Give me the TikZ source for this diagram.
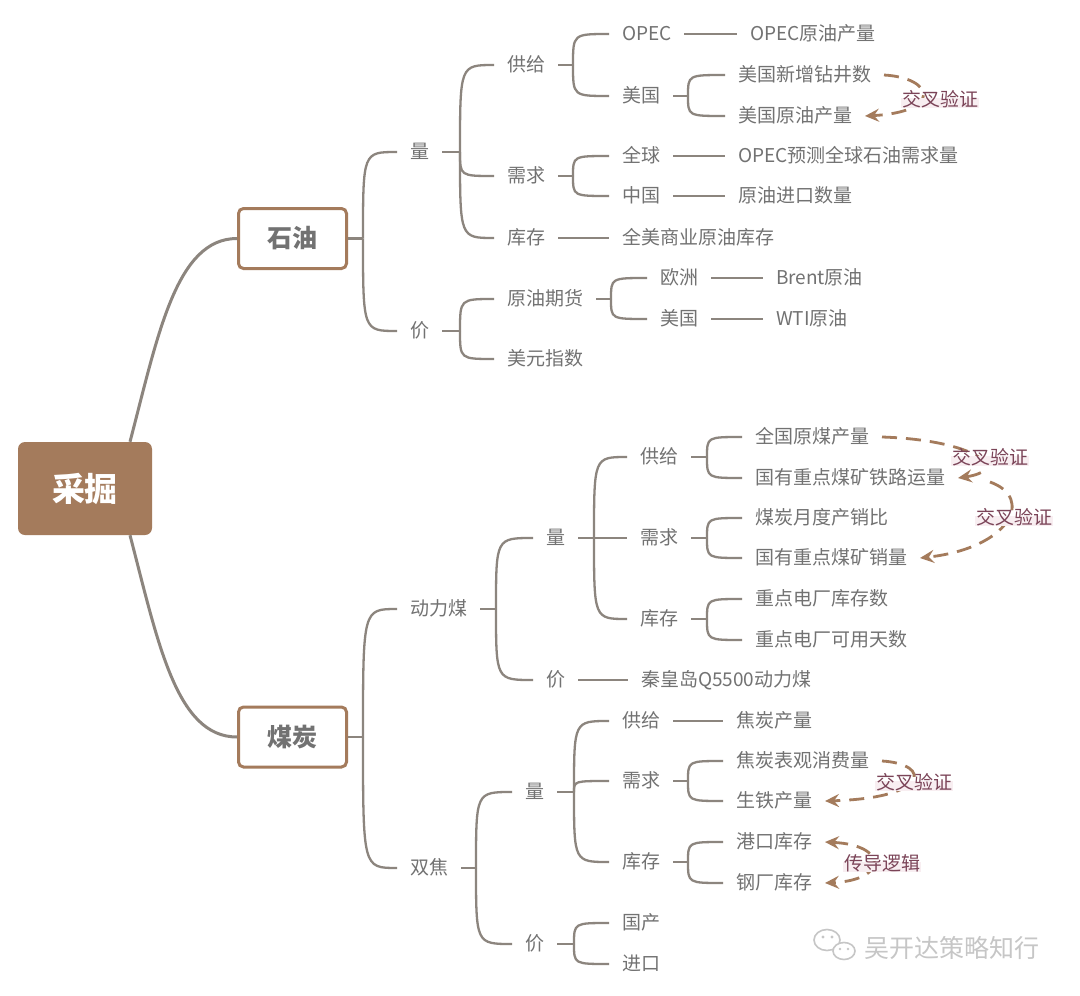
\documentclass[tikz,border=0pt]{standalone}
\usepackage{fontspec}
\setmainfont{Noto Sans CJK SC}
\usetikzlibrary{arrows.meta,calc}
\definecolor{linec}{HTML}{8C857E}
\definecolor{txtc}{HTML}{727272}
\definecolor{mybrown}{HTML}{A47B5C}
\definecolor{lblc}{HTML}{7B4458}
\definecolor{lblbg}{HTML}{F8EEF1}
\definecolor{wmc}{HTML}{C6C6C6}
\newcommand{\mmbr}[2]{\draw[br] (#1) .. controls (#1 |- #2.west) .. (#2.west);}
\tikzset{
  tx/.style={anchor=west, inner xsep=0pt, inner ysep=0pt, outer xsep=13pt, outer ysep=0pt,
    text=txtc, font=\fontsize{19}{22}\selectfont, text height=1.2em, text depth=0pt},
  br/.style={draw=linec, line width=2.3pt},
  trunk/.style={draw=linec, line width=3pt},
  xref/.style={draw=mybrown, line width=2.8pt, dash pattern=on 15pt off 9pt,
    -{Stealth[length=14pt,width=13pt,inset=5pt]}},
  lbl/.style={text=lblc, fill=lblbg, inner sep=1pt, font=\fontsize{19}{22}\selectfont,
    text height=0.76em, text depth=0.06em},
  rootbox/.style={rectangle, rounded corners=7pt, fill=mybrown, minimum width=134pt,
    minimum height=93pt, text=white, font=\fontsize{33}{36}\selectfont\bfseries},
  catbox/.style={rectangle, draw=mybrown, line width=3pt, rounded corners=5pt, fill=white,
    minimum width=108pt, minimum height=60pt, text=txtc, font=\fontsize{25}{28}\selectfont\bfseries},
}
\begin{document}
\begin{tikzpicture}[x=1pt,y=-1pt]
\fill[white] (0,0) rectangle (1080,996);
\useasboundingbox (0,0) rectangle (1080,996);

% root and categories
\node[rootbox] (root) at (85,488.5) {采掘};
\node[catbox] (oil) at (292.5,238.5) {石油};
\node[catbox] (coal) at (292.5,737) {煤炭};
\draw[trunk] ($(root.north)+(45,0)$) .. controls (158,335) and (176,238.5) .. (oil.west);
\draw[trunk] ($(root.south)+(45,0)$) .. controls (158,642) and (176,737) .. (coal.west);

% ================= OIL =================
\coordinate (Joil) at (363,238.5);
\draw[br] (oil.east) -- (Joil);
\node[tx] (oq) at (397,152) {量};
\node[tx] (op) at (397,331) {价};
\mmbr{Joil}{oq} \mmbr{Joil}{op}

% oil quantity
\coordinate (Joq) at (460,152);
\draw[br] (oq.east) -- (Joq);
\node[tx] (osup) at (494,65) {供给};
\node[tx] (odem) at (494,176) {需求};
\node[tx] (osto) at (494,238) {库存};
\mmbr{Joq}{osup} \mmbr{Joq}{odem} \mmbr{Joq}{osto}

\coordinate (Josup) at (573,65);
\draw[br] (osup.east) -- (Josup);
\node[tx] (opec) at (609,34) {OPEC};
\node[tx] (ous) at (609,96) {美国};
\mmbr{Josup}{opec} \mmbr{Josup}{ous}
\node[tx] (opecp) at (737,34) {OPEC原油产量};
\draw[br] (opec.east) -- (opecp.west);
\coordinate (Jous) at (688,96);
\draw[br] (ous.east) -- (Jous);
\node[tx] (usw) at (725,75) {美国新增钻井数};
\node[tx] (usp) at (725,116) {美国原油产量};
\mmbr{Jous}{usw} \mmbr{Jous}{usp}

\coordinate (Jodem) at (573,176);
\draw[br] (odem.east) -- (Jodem);
\node[tx] (oglb) at (609,156) {全球};
\node[tx] (ocn) at (609,196) {中国};
\mmbr{Jodem}{oglb} \mmbr{Jodem}{ocn}
\node[tx] (oglbd) at (725,156) {OPEC预测全球石油需求量};
\node[tx] (ocni) at (725,196) {原油进口数量};
\draw[br] (oglb.east) -- (oglbd.west);
\draw[br] (ocn.east) -- (ocni.west);

\node[tx] (ostod) at (609,238) {全美商业原油库存};
\draw[br] (osto.east) -- (ostod.west);

% oil price
\coordinate (Jop) at (460,331);
\draw[br] (op.east) -- (Jop);
\node[tx] (ofut) at (494,299) {原油期货};
\node[tx] (odx) at (494,359) {美元指数};
\mmbr{Jop}{ofut} \mmbr{Jop}{odx}
\coordinate (Jofut) at (611,299);
\draw[br] (ofut.east) -- (Jofut);
\node[tx] (oeu) at (647,278) {欧洲};
\node[tx] (ous2) at (647,319) {美国};
\mmbr{Jofut}{oeu} \mmbr{Jofut}{ous2}
\node[tx] (brent) at (763,278) {Brent原油};
\node[tx] (wti) at (763,319) {WTI原油};
\draw[br] (oeu.east) -- (brent.west);
\draw[br] (ous2.east) -- (wti.west);

% ================= COAL =================
\coordinate (Jcoal) at (363,737);
\draw[br] (coal.east) -- (Jcoal);
\node[tx] (thermal) at (397,609) {动力煤};
\node[tx] (coke) at (397,868) {双焦};
\mmbr{Jcoal}{thermal} \mmbr{Jcoal}{coke}

% thermal coal
\coordinate (Jth) at (496,609);
\draw[br] (thermal.east) -- (Jth);
\node[tx] (tq) at (533,538) {量};
\node[tx] (tp) at (533,680) {价};
\mmbr{Jth}{tq} \mmbr{Jth}{tp}

\coordinate (Jtq) at (594,538);
\draw[br] (tq.east) -- (Jtq);
\node[tx] (tsup) at (627,457) {供给};
\node[tx] (tdem) at (627,538) {需求};
\node[tx] (tsto) at (627,619) {库存};
\mmbr{Jtq}{tsup} \mmbr{Jtq}{tdem} \mmbr{Jtq}{tsto}

\coordinate (Jtsup) at (707,457);
\draw[br] (tsup.east) -- (Jtsup);
\node[tx] (c1) at (742,437) {全国原煤产量};
\node[tx] (c2) at (742,478) {国有重点煤矿铁路运量};
\mmbr{Jtsup}{c1} \mmbr{Jtsup}{c2}

\coordinate (Jtdem) at (707,538);
\draw[br] (tdem.east) -- (Jtdem);
\node[tx] (c3) at (742,518) {煤炭月度产销比};
\node[tx] (c4) at (742,558) {国有重点煤矿销量};
\mmbr{Jtdem}{c3} \mmbr{Jtdem}{c4}

\coordinate (Jtsto) at (707,619);
\draw[br] (tsto.east) -- (Jtsto);
\node[tx] (c5) at (742,599) {重点电厂库存数};
\node[tx] (c6) at (742,640) {重点电厂可用天数};
\mmbr{Jtsto}{c5} \mmbr{Jtsto}{c6}

\node[tx] (qhd) at (628,680) {秦皇岛Q5500动力煤};
\draw[br] (tp.east) -- (qhd.west);

% coke
\coordinate (Jck) at (476,868);
\draw[br] (coke.east) -- (Jck);
\node[tx] (kq) at (512,792) {量};
\node[tx] (kp) at (512,944) {价};
\mmbr{Jck}{kq} \mmbr{Jck}{kp}

\coordinate (Jkq) at (574,792);
\draw[br] (kq.east) -- (Jkq);
\node[tx] (ksup) at (609,721) {供给};
\node[tx] (kdem) at (609,781) {需求};
\node[tx] (ksto) at (609,862) {库存};
\mmbr{Jkq}{ksup} \mmbr{Jkq}{kdem} \mmbr{Jkq}{ksto}

\node[tx] (kout) at (723,721) {焦炭产量};
\draw[br] (ksup.east) -- (kout.west);

\coordinate (Jkdem) at (688,781);
\draw[br] (kdem.east) -- (Jkdem);
\node[tx] (j1) at (723,761) {焦炭表观消费量};
\node[tx] (j2) at (723,801) {生铁产量};
\mmbr{Jkdem}{j1} \mmbr{Jkdem}{j2}

\coordinate (Jksto) at (688,862);
\draw[br] (ksto.east) -- (Jksto);
\node[tx] (gk) at (723,842) {港口库存};
\node[tx] (gc) at (723,883) {钢厂库存};
\mmbr{Jksto}{gk} \mmbr{Jksto}{gc}

\coordinate (Jkp) at (574,944);
\draw[br] (kp.east) -- (Jkp);
\node[tx] (dom) at (609,923) {国产};
\node[tx] (imp) at (609,964) {进口};
\mmbr{Jkp}{dom} \mmbr{Jkp}{imp}

% ================= cross references =================
\draw[xref] (usw.east) .. controls (935,78) and (942,112) .. (usp.east);
\node[lbl] (x1) at (940,103) {交叉验证};

\draw[xref] (c1.east) .. controls (975,440) and (1012,470) .. (c2.east);
\node[lbl] (x2) at (990,461) {交叉验证};
\coordinate (x3s) at (990,482);
\draw[xref] (x3s) .. controls (1035,498) and (1010,548) .. (c4.east);
\node[lbl] (x3) at (1014,521) {交叉验证};

\draw[xref] (j1.east) .. controls (932,764) and (930,798) .. (j2.east);
\node[lbl] (x4) at (914,786) {交叉验证};

\draw[xref, {Stealth[length=14pt,width=13pt,inset=5pt]}-{Stealth[length=14pt,width=13pt,inset=5pt]}]
  (gk.east) .. controls (888,845) and (888,880) .. (gc.east);
\node[lbl] (x5) at (882,867) {传导逻辑};

% ================= watermark =================
\draw[wmc, line width=1.6pt] (827,940) ellipse [x radius=13, y radius=10.5];
\draw[wmc, line width=1.6pt, fill=white] (844,951) ellipse [x radius=11, y radius=8.5];
\fill[wmc] (823,937) circle (1.6) (832,937) circle (1.6) (840,949) circle (1.3) (848,949) circle (1.3);
\node[text=wmc, font=\fontsize{25}{28}\selectfont, inner sep=0pt] (wm) at (952,948) {吴开达策略知行};
\end{tikzpicture}
\end{document}
